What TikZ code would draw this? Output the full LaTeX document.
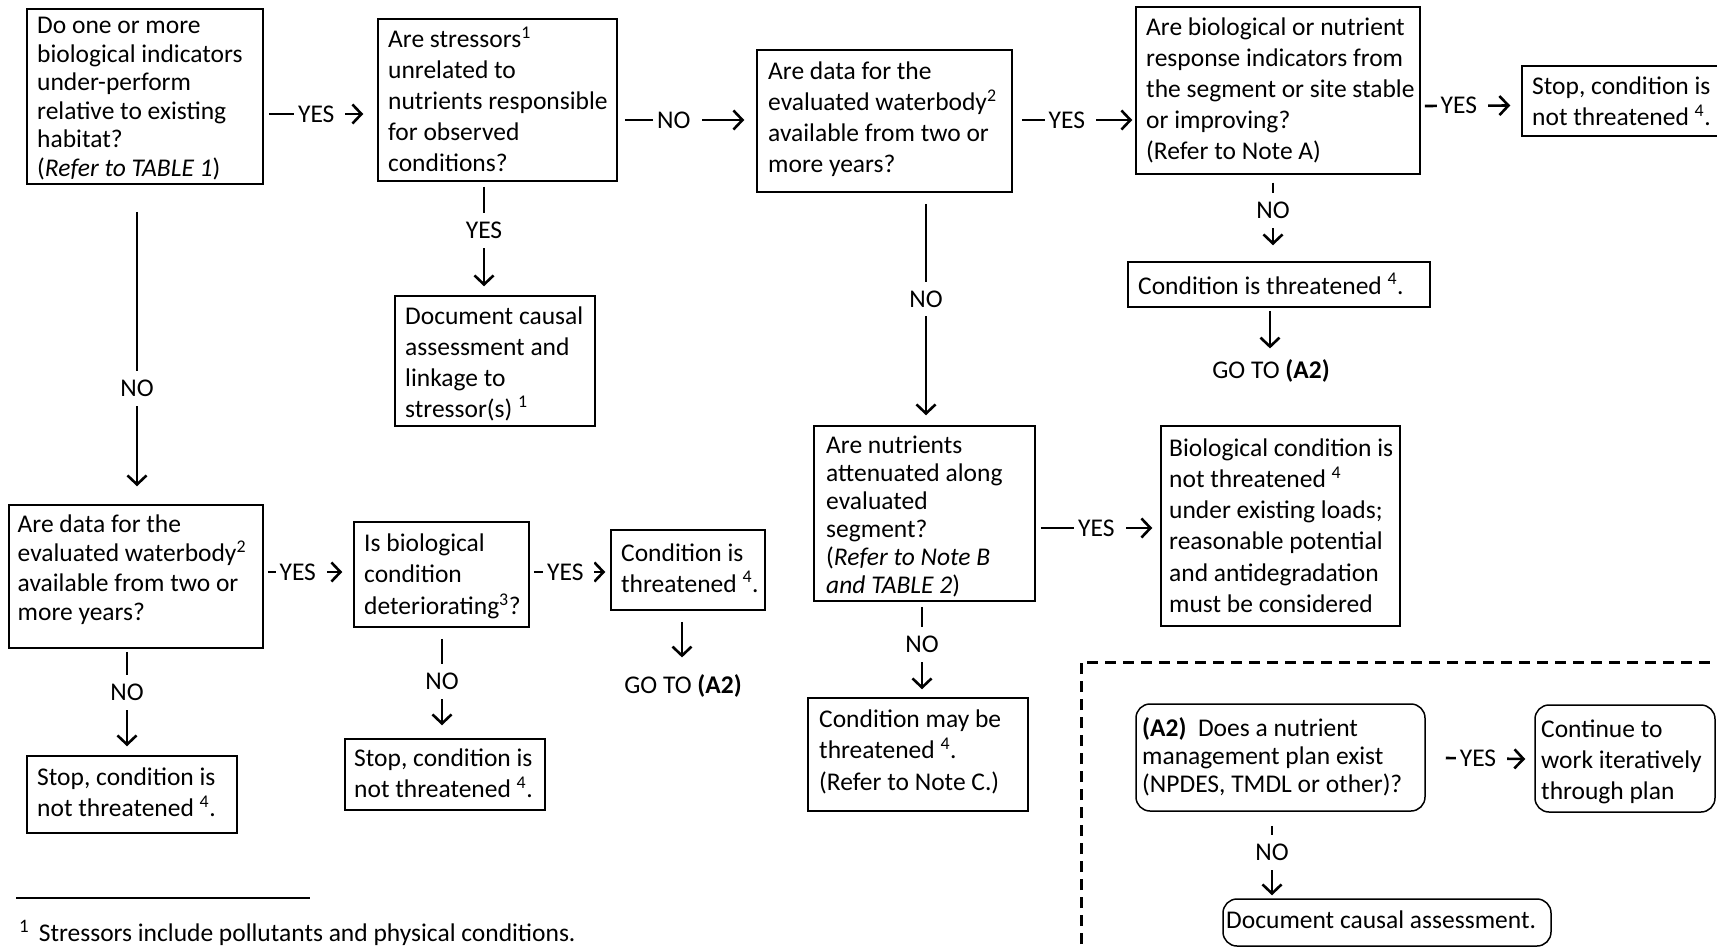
\documentclass[tikz,border=0pt]{standalone}
\usepackage{fontspec}
\setmainfont{Carlito}
\usetikzlibrary{arrows.meta,calc,fit}
\tikzset{
  frame/.style={draw, line width=1.5pt, inner sep=0pt},
  rframe/.style={frame, rounded corners=14pt},
  txt/.style={anchor=base west, inner sep=0pt, align=left},
  conn/.style={line width=2.6pt, -{Straight Barb[length=9pt,width=19pt,line width=2.6pt]}},
  lab/.style={fill=white, inner xsep=4pt, inner ysep=9pt, font=\fontsize{25.5}{31}\selectfont},
  goto/.style={inner sep=0pt, font=\fontsize{25.5}{31}\selectfont},
}
\newcommand{\tl}[2]{\parbox[t]{#1}{\raggedright #2}}
\newcommand{\hy}{YES\rule{7pt}{0pt}}
\newcommand{\hn}{NO\rule{7pt}{0pt}}
\begin{document}
\begin{tikzpicture}[x=1pt,y=-1pt]
\useasboundingbox (0,0) rectangle (1717,947);
\clip (0,0) rectangle (1717,947);
\fontsize{25.5}{31}\selectfont
% frames
\node[frame, fit={(27,9) (263,184)}] (A) {};
\node[frame, fit={(378,19) (617,181)}] (B) {};
\node[frame, fit={(757,50) (1012,192)}] (C) {};
\node[frame, fit={(1136,7) (1420,174)}] (D) {};
\node[frame, fit={(1522,66) (1730,136)}] (E) {};
\node[frame, fit={(1128,262) (1430,307)}] (F) {};
\node[frame, fit={(395,296) (595,426)}] (G) {};
\node[frame, fit={(9,505) (263,648)}] (H) {};
\node[frame, fit={(354,522) (529,627)}] (I) {};
\node[frame, fit={(611,530) (765,610)}] (J) {};
\node[frame, fit={(345,739) (545,810)}] (K) {};
\node[frame, fit={(27,756) (237,833)}] (L) {};
\node[frame, fit={(814,426) (1035,601)}] (M) {};
\node[frame, fit={(1161,426) (1400,626)}] (N) {};
\node[frame, fit={(808,698) (1028,811)}] (O) {};
\node[rframe, fit={(1136,704) (1425,811)}] (A2) {};
\node[rframe, fit={(1535,705) (1715,812)}] (P) {};
\node[rframe, fit={(1223,899) (1551,946)}] (Q) {};
% texts
\node[txt] (tA) at (37,34) {\tl{230pt}{\fontsize{25.5}{28.5}\selectfont Do one or more\\biological indicators\\under-perform\\relative to existing\\habitat?\\(\textit{Refer to TABLE 1})}};
\node[txt] (tB) at (388,48) {\tl{230pt}{Are stressors\textsuperscript{1}\\unrelated to\\nutrients responsible\\for observed\\conditions?}};
\node[txt] (tC) at (768,80) {\tl{240pt}{Are data for the\\evaluated waterbody\textsuperscript{2}\\available from two or\\more years?}};
\node[txt] (tD) at (1146,36) {\tl{280pt}{Are biological or nutrient\\response indicators from\\the segment or site stable\\or improving?\\(Refer to Note A)}};
\node[txt] (tE) at (1532,95) {\tl{200pt}{Stop, condition is\\not threatened \textsuperscript{4}.}};
\node[txt] (tF) at (1138,294) {\tl{290pt}{Condition is threatened \textsuperscript{4}.}};
\node[txt] (tG) at (405,324) {\tl{190pt}{Document causal\\assessment and\\linkage to\\stressor(s) \textsuperscript{1}}};
\node[txt] (tH) at (17.5,532) {\tl{250pt}{\fontsize{25.5}{29.6}\selectfont Are data for the\\evaluated waterbody\textsuperscript{2}\\available from two or\\more years?}};
\node[txt] (tI) at (364,551) {\tl{170pt}{\fontsize{25.5}{31.8}\selectfont Is biological\\condition\\deteriorating\textsuperscript{3}?}};
\node[txt] (tJ) at (621,561) {\tl{150pt}{Condition is\\threatened \textsuperscript{4}.}};
\node[txt] (tK) at (354,766) {\tl{190pt}{\fontsize{25.5}{31.8}\selectfont Stop, condition is\\not threatened \textsuperscript{4}.}};
\node[txt] (tL) at (37,785) {\tl{200pt}{\fontsize{25.5}{31.8}\selectfont Stop, condition is\\not threatened \textsuperscript{4}.}};
\node[txt] (tM) at (826,453) {\tl{210pt}{\fontsize{25.5}{28}\selectfont Are nutrients\\attenuated along\\evaluated\\segment?\\(\textit{Refer to Note B}\\\textit{and TABLE 2})}};
\node[txt] (tN) at (1169,456) {\tl{235pt}{\fontsize{25.5}{31.3}\selectfont Biological condition is\\not threatened \textsuperscript{4}\\under existing loads;\\reasonable potential\\and antidegradation\\must be considered}};
\node[txt] (tO) at (819,727) {\tl{210pt}{\fontsize{25.5}{31.8}\selectfont Condition may be\\threatened \textsuperscript{4}.\\(Refer to Note C.)}};
\node[txt] (tA2) at (1142,736) {\tl{285pt}{\fontsize{25.5}{28}\selectfont \textbf{(A2)}\ \ Does a nutrient\\management plan exist\\(NPDES, TMDL or other)?}};
\node[txt] (tP) at (1541,737) {\tl{180pt}{Continue to\\work iteratively\\through plan}};
\node[txt] (tQ) at (1226,928) {\tl{320pt}{Document causal assessment.}};
\node[goto] (g1) at (1271,371) {GO TO \textbf{(A2)}};
\node[goto] (g2) at (683,686) {GO TO \textbf{(A2)}};
% connectors
\draw[conn] ($(A.east)+(5,17.5)$) -- node[lab,pos=0.54]{\hy} ($(B.west)+(-14,14)$);
\draw[conn] ($(B.east)+(7,20)$) -- node[lab,pos=0.44]{\hn} ($(C.west)+(-12,-1)$);
\draw[conn] ($(C.east)+(9,-1)$) -- node[lab,pos=0.44]{\hy} ($(D.west)+(-3,29.5)$);
\draw[conn] ($(D.east)+(4,15.5)$) -- node[lab,pos=0.44]{\hy} ($(E.west)+(-11,4.5)$);
\draw[conn] ($(D.south)+(-5,8)$) -- node[lab,pos=0.44]{NO} ($(F.north)+(-6,-16)$);
\draw[conn] ($(F.south)+(-9,3)$) -- ($(g1.north)+(-1,-11)$);
\draw[conn] ($(B.south)+(-13.5,5)$) -- node[lab,pos=0.44]{YES} ($(G.north)+(-11,-9)$);
\draw[conn] ($(A.south)+(-8,27)$) -- node[lab,pos=0.645]{NO} ($(H.north)+(1,-18)$);
\draw[conn] ($(H.east)+(4,-4.5)$) -- node[lab,pos=0.45]{\hy} ($(I.west)+(-11,-2.5)$);
\draw[conn] ($(I.east)+(4,-2.5)$) -- node[lab,pos=0.49]{\hy} ($(J.west)+(-5,2)$);
\draw[conn] ($(J.south)+(-6,11)$) -- ($(g2.north)+(-1,-17)$);
\draw[conn] ($(I.south)+(0.5,11)$) -- node[lab,pos=0.49]{NO} ($(K.north)+(-3,-13)$);
\draw[conn] ($(H.south)+(-9,3)$) -- node[lab,pos=0.43]{NO} ($(L.north)+(-5,-9)$);
\draw[conn] ($(C.south)+(41.5,11)$) -- node[lab,pos=0.45]{NO} ($(M.north)+(1.5,-10)$);
\draw[conn] ($(M.east)+(5,14.5)$) -- node[lab,pos=0.53]{\hy} ($(N.west)+(-8,2)$);
\draw[conn] ($(M.south)+(-2.5,5)$) -- node[lab,pos=0.46]{NO} ($(O.north)+(4,-8)$);
\draw[conn] ($(A2.east)+(20,0.5)$) -- node[lab,pos=0.45]{\hy} ($(P.west)+(-9,0.5)$);
\draw[conn] ($(A2.south)+(-8.5,14)$) -- node[lab,pos=0.38]{NO} ($(Q.north)+(-115,-3)$);
% dashed region
\coordinate (dc) at (1081,662);
\draw[line width=3pt, dash pattern=on 11pt off 7pt] ($(dc)+(0,300)$) -- (dc) -- ($(dc)+(660,0)$);
% footnote
\coordinate (fn) at (16,898);
\draw[line width=1.5pt] (fn) -- ($(fn)+(294,0)$);
\node[txt] (fnt) at (19,941) {\raisebox{9pt}{\fontsize{19}{20}\selectfont 1}\hspace{10pt}Stressors include pollutants and physical conditions.};
\end{tikzpicture}
\end{document}
